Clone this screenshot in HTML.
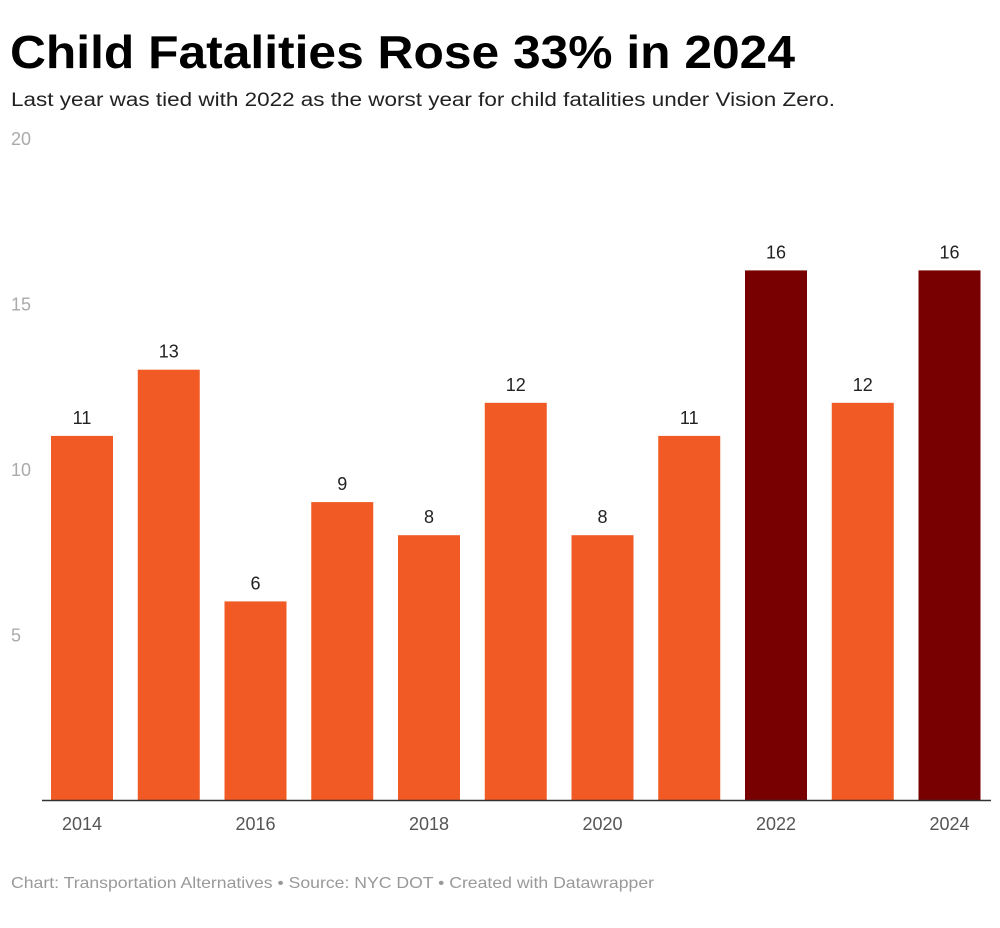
<!DOCTYPE html>
<html><head><meta charset="utf-8"><style>
body{margin:0;background:#fff;}
svg text{font-family:"Liberation Sans",sans-serif;}
</style></head><body>
<svg width="1000" height="923">
<text x="10" y="68" font-size="46" font-weight="bold" fill="#000" textLength="785" lengthAdjust="spacingAndGlyphs">Child Fatalities Rose 33% in 2024</text>
<text x="11" y="106" font-size="19" fill="#222" textLength="824" lengthAdjust="spacingAndGlyphs">Last year was tied with 2022 as the worst year for child fatalities under Vision Zero.</text>
<g id="yaxis"></g>
<g id="bars"></g>
<line x1="42" x2="991" y1="800.5" y2="800.5" stroke="#333" stroke-width="1.5"/>
<g id="xaxis"></g>
<text x="11" y="888" font-size="16" fill="#999" textLength="643" lengthAdjust="spacingAndGlyphs">Chart: Transportation Alternatives • Source: NYC DOT • Created with Datawrapper</text>
</svg>
<script>
const years=[2014,2015,2016,2017,2018,2019,2020,2021,2022,2023,2024];
const values=[11,13,6,9,8,12,8,11,16,12,16];
const highlighted=[2022,2024];
const yTicks=[20,15,10,5];
const xTickLabels=[2014,2016,2018,2020,2022,2024];
const NS="http://www.w3.org/2000/svg";
const y=v=>800-v*33.1;
const x0=51,step=86.75,bw=62;
const x=i=>x0+i*step;
const ya=document.getElementById('yaxis'),bg=document.getElementById('bars'),xa=document.getElementById('xaxis');
yTicks.forEach(t=>{const e=document.createElementNS(NS,'text');e.setAttribute('x',11);e.setAttribute('y',y(t)+7);e.setAttribute('font-size','18');e.setAttribute('fill','#aaa');e.textContent=t;


ya.appendChild(e);});
years.forEach((yr,i)=>{const v=values[i];const r=document.createElementNS(NS,'rect');
r.setAttribute('x',x(i));r.setAttribute('width',bw);r.setAttribute('y',y(v));r.setAttribute('height',800-y(v));
r.setAttribute('fill',highlighted.includes(yr)?'#780000':'#f15a24');


bg.appendChild(r);
const t=document.createElementNS(NS,'text');t.setAttribute('x',x(i)+bw/2);t.setAttribute('y',y(v)-12);t.setAttribute('text-anchor','middle');t.setAttribute('font-size','18');t.setAttribute('fill','#222');t.textContent=v;


bg.appendChild(t);
if(xTickLabels.includes(yr)){const l=document.createElementNS(NS,'text');l.setAttribute('x',x(i)+bw/2);l.setAttribute('y',830);l.setAttribute('text-anchor','middle');l.setAttribute('font-size','18');l.setAttribute('fill','#555');l.textContent=yr;


xa.appendChild(l);}
});
</script>
</body></html>
